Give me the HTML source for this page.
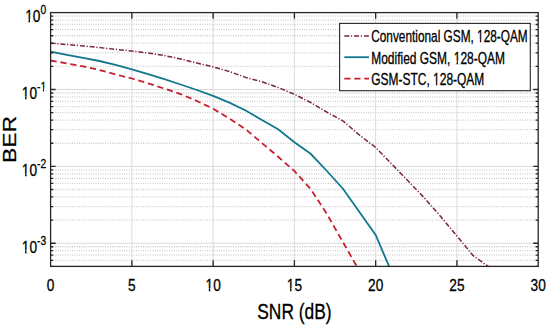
<!DOCTYPE html>
<html><head><meta charset="utf-8"><style>
html,body{margin:0;padding:0;background:#fff;}
svg{display:block;}
text{font-family:'Liberation Sans', sans-serif;fill:#000;stroke:#000;stroke-width:0.3px;}
.tl{font-size:17px;}
.sup{font-size:12.8px;}
.xl{font-size:22px;}
.yl{font-size:22.9px;}
.lt{font-size:16px;}
.mg{stroke:#cbcbcb;stroke-width:1.3;stroke-dasharray:0.95 1.42;fill:none;}
.Mg{stroke:#dadada;stroke-width:1;fill:none;}
.ax{fill:none;stroke:#262626;stroke-width:1.3;}
.tk{fill:none;stroke:#262626;stroke-width:1.3;}
.lg{fill:#fff;stroke:#262626;stroke-width:1.1;}
.c1{fill:none;stroke:#7a2242;stroke-width:1.5;stroke-dasharray:5 1.7 1.2 1.9;}
.c2{fill:none;stroke:#11778f;stroke-width:1.8;}
.c3{fill:none;stroke:#c81e2e;stroke-width:1.8;stroke-dasharray:6.2 3.8;}
</style></head><body>
<svg width="550" height="327" viewBox="0 0 550 327">
<defs><clipPath id="clip"><rect x="50.6" y="12.6" width="487.60" height="253.80"/></clipPath></defs>
<line x1="50.60" y1="266.40" x2="538.20" y2="266.40" class="mg"/>
<line x1="50.60" y1="260.31" x2="538.20" y2="260.31" class="mg"/>
<line x1="50.60" y1="255.16" x2="538.20" y2="255.16" class="mg"/>
<line x1="50.60" y1="250.71" x2="538.20" y2="250.71" class="mg"/>
<line x1="50.60" y1="246.77" x2="538.20" y2="246.77" class="mg"/>
<line x1="50.60" y1="220.11" x2="538.20" y2="220.11" class="mg"/>
<line x1="50.60" y1="206.57" x2="538.20" y2="206.57" class="mg"/>
<line x1="50.60" y1="196.97" x2="538.20" y2="196.97" class="mg"/>
<line x1="50.60" y1="189.51" x2="538.20" y2="189.51" class="mg"/>
<line x1="50.60" y1="183.43" x2="538.20" y2="183.43" class="mg"/>
<line x1="50.60" y1="178.28" x2="538.20" y2="178.28" class="mg"/>
<line x1="50.60" y1="173.82" x2="538.20" y2="173.82" class="mg"/>
<line x1="50.60" y1="169.89" x2="538.20" y2="169.89" class="mg"/>
<line x1="50.60" y1="143.23" x2="538.20" y2="143.23" class="mg"/>
<line x1="50.60" y1="129.69" x2="538.20" y2="129.69" class="mg"/>
<line x1="50.60" y1="120.08" x2="538.20" y2="120.08" class="mg"/>
<line x1="50.60" y1="112.63" x2="538.20" y2="112.63" class="mg"/>
<line x1="50.60" y1="106.54" x2="538.20" y2="106.54" class="mg"/>
<line x1="50.60" y1="101.39" x2="538.20" y2="101.39" class="mg"/>
<line x1="50.60" y1="96.94" x2="538.20" y2="96.94" class="mg"/>
<line x1="50.60" y1="93.00" x2="538.20" y2="93.00" class="mg"/>
<line x1="50.60" y1="66.34" x2="538.20" y2="66.34" class="mg"/>
<line x1="50.60" y1="52.80" x2="538.20" y2="52.80" class="mg"/>
<line x1="50.60" y1="43.20" x2="538.20" y2="43.20" class="mg"/>
<line x1="50.60" y1="35.74" x2="538.20" y2="35.74" class="mg"/>
<line x1="50.60" y1="29.66" x2="538.20" y2="29.66" class="mg"/>
<line x1="50.60" y1="24.51" x2="538.20" y2="24.51" class="mg"/>
<line x1="50.60" y1="20.05" x2="538.20" y2="20.05" class="mg"/>
<line x1="50.60" y1="16.12" x2="538.20" y2="16.12" class="mg"/>
<line x1="50.60" y1="89.49" x2="538.20" y2="89.49" class="Mg"/>
<line x1="50.60" y1="166.37" x2="538.20" y2="166.37" class="Mg"/>
<line x1="50.60" y1="243.26" x2="538.20" y2="243.26" class="Mg"/>
<line x1="131.87" y1="12.60" x2="131.87" y2="266.40" class="Mg"/>
<line x1="213.13" y1="12.60" x2="213.13" y2="266.40" class="Mg"/>
<line x1="294.40" y1="12.60" x2="294.40" y2="266.40" class="Mg"/>
<line x1="375.67" y1="12.60" x2="375.67" y2="266.40" class="Mg"/>
<line x1="456.93" y1="12.60" x2="456.93" y2="266.40" class="Mg"/>
<g clip-path="url(#clip)">
<polyline points="50.60,43.20 66.85,44.50 83.11,45.90 99.36,47.60 115.61,49.30 131.87,51.00 148.12,53.10 164.37,55.50 180.63,59.00 196.88,63.00 213.13,66.90 229.39,71.50 245.64,77.40 261.89,81.80 278.15,87.50 294.40,94.30 310.65,102.50 326.91,112.20 343.16,121.00 359.41,135.00 375.67,147.50 391.92,164.30 408.17,181.00 424.43,198.00 440.68,216.50 456.93,236.00 473.19,255.70 489.44,267.30" class="c1"/>
<polyline points="50.60,51.70 66.85,54.80 83.11,57.80 99.36,61.00 115.61,64.90 131.87,69.40 148.12,74.20 164.37,79.20 180.63,84.50 196.88,90.00 213.13,95.90 229.39,102.60 245.64,110.50 261.89,120.00 278.15,129.20 294.40,142.20 310.65,153.80 326.91,171.00 343.16,189.00 359.41,212.00 375.67,235.00 391.92,273.00" class="c2"/>
<polyline points="50.60,60.50 66.85,63.40 83.11,66.40 99.36,70.00 115.61,74.40 131.87,78.50 148.12,83.40 164.37,88.60 180.63,94.10 196.88,101.00 213.13,108.70 229.39,118.60 245.64,129.20 261.89,143.00 278.15,156.80 294.40,171.00 310.65,189.00 326.91,214.00 343.16,242.50 359.41,271.00" class="c3"/>
</g>
<rect x="50.60" y="12.60" width="487.60" height="253.80" class="ax"/>
<path d="M131.87,266.40v-6.2M131.87,12.60v6.2M213.13,266.40v-6.2M213.13,12.60v6.2M294.40,266.40v-6.2M294.40,12.60v6.2M375.67,266.40v-6.2M375.67,12.60v6.2M456.93,266.40v-6.2M456.93,12.60v6.2M50.60,89.49h5M538.20,89.49h-5M50.60,166.37h5M538.20,166.37h-5M50.60,243.26h5M538.20,243.26h-5M50.60,266.40h2.6M538.20,266.40h-2.6M50.60,260.31h2.6M538.20,260.31h-2.6M50.60,255.16h2.6M538.20,255.16h-2.6M50.60,250.71h2.6M538.20,250.71h-2.6M50.60,246.77h2.6M538.20,246.77h-2.6M50.60,220.11h2.6M538.20,220.11h-2.6M50.60,206.57h2.6M538.20,206.57h-2.6M50.60,196.97h2.6M538.20,196.97h-2.6M50.60,189.51h2.6M538.20,189.51h-2.6M50.60,183.43h2.6M538.20,183.43h-2.6M50.60,178.28h2.6M538.20,178.28h-2.6M50.60,173.82h2.6M538.20,173.82h-2.6M50.60,169.89h2.6M538.20,169.89h-2.6M50.60,143.23h2.6M538.20,143.23h-2.6M50.60,129.69h2.6M538.20,129.69h-2.6M50.60,120.08h2.6M538.20,120.08h-2.6M50.60,112.63h2.6M538.20,112.63h-2.6M50.60,106.54h2.6M538.20,106.54h-2.6M50.60,101.39h2.6M538.20,101.39h-2.6M50.60,96.94h2.6M538.20,96.94h-2.6M50.60,93.00h2.6M538.20,93.00h-2.6M50.60,66.34h2.6M538.20,66.34h-2.6M50.60,52.80h2.6M538.20,52.80h-2.6M50.60,43.20h2.6M538.20,43.20h-2.6M50.60,35.74h2.6M538.20,35.74h-2.6M50.60,29.66h2.6M538.20,29.66h-2.6M50.60,24.51h2.6M538.20,24.51h-2.6M50.60,20.05h2.6M538.20,20.05h-2.6M50.60,16.12h2.6M538.20,16.12h-2.6" class="tk"/>
<g transform="translate(50.60,290.9) scale(0.805,1)"><text x="0" y="0" text-anchor="middle" class="tl">0</text></g>
<g transform="translate(131.87,290.9) scale(0.805,1)"><text x="0" y="0" text-anchor="middle" class="tl">5</text></g>
<g transform="translate(213.13,290.9) scale(0.805,1)"><text x="0" y="0" text-anchor="middle" class="tl">10</text><rect x="-10.05" y="-2.69" width="4.65" height="3.79" fill="#fff"/><rect x="-3.56" y="-2.69" width="3.37" height="3.79" fill="#fff"/></g>
<g transform="translate(294.40,290.9) scale(0.805,1)"><text x="0" y="0" text-anchor="middle" class="tl">15</text><rect x="-10.05" y="-2.69" width="4.65" height="3.79" fill="#fff"/><rect x="-3.56" y="-2.69" width="3.37" height="3.79" fill="#fff"/></g>
<g transform="translate(375.67,290.9) scale(0.805,1)"><text x="0" y="0" text-anchor="middle" class="tl">20</text></g>
<g transform="translate(456.93,290.9) scale(0.805,1)"><text x="0" y="0" text-anchor="middle" class="tl">25</text></g>
<g transform="translate(538.20,290.9) scale(0.805,1)"><text x="0" y="0" text-anchor="middle" class="tl">30</text></g>
<g transform="translate(46.2,21.8) scale(0.805,1)"><text x="0" y="0" text-anchor="end" class="tl">10<tspan class="sup" dy="-8">0</tspan></text><rect x="-26.63" y="-2.69" width="4.65" height="3.79" fill="#fff"/><rect x="-20.13" y="-2.69" width="3.37" height="3.79" fill="#fff"/></g>
<g transform="translate(46.2,99.0) scale(0.805,1)"><text x="0" y="0" text-anchor="end" class="tl">10<tspan class="sup" dy="-8">-1</tspan></text><rect x="-30.88" y="-2.69" width="4.65" height="3.79" fill="#fff"/><rect x="-24.38" y="-2.69" width="3.37" height="3.79" fill="#fff"/><rect x="-7.73" y="-10.40" width="3.60" height="3.50" fill="#fff"/><rect x="-2.63" y="-10.40" width="2.49" height="3.50" fill="#fff"/></g>
<g transform="translate(46.2,176.1) scale(0.805,1)"><text x="0" y="0" text-anchor="end" class="tl">10<tspan class="sup" dy="-8">-2</tspan></text><rect x="-30.88" y="-2.69" width="4.65" height="3.79" fill="#fff"/><rect x="-24.38" y="-2.69" width="3.37" height="3.79" fill="#fff"/></g>
<g transform="translate(46.2,252.5) scale(0.805,1)"><text x="0" y="0" text-anchor="end" class="tl">10<tspan class="sup" dy="-8">-3</tspan></text><rect x="-30.88" y="-2.69" width="4.65" height="3.79" fill="#fff"/><rect x="-24.38" y="-2.69" width="3.37" height="3.79" fill="#fff"/></g>
<g transform="translate(294.40,318.9) scale(0.79,1)"><text x="0" y="0" text-anchor="middle" class="xl">SNR (dB)</text></g>
<g transform="translate(15.6,139.50) scale(0.78,1) rotate(-90)"><text x="0" y="0" text-anchor="middle" class="yl">BER</text></g>
<rect x="339.6" y="23.4" width="190.70" height="67.30" class="lg"/>
<line x1="344.3" y1="36.1" x2="369.0" y2="36.1" class="c1"/>
<g transform="translate(371.2,42.1) scale(0.74,1)"><text x="0" y="0" class="lt">Conventional GSM, 128-QAM</text><rect x="142.44" y="-2.62" width="4.41" height="3.72" fill="#fff"/><rect x="148.61" y="-2.62" width="3.17" height="3.72" fill="#fff"/></g>
<line x1="344.3" y1="57.2" x2="369.0" y2="57.2" class="c2"/>
<g transform="translate(371.2,63.5) scale(0.749,1)"><text x="0" y="0" class="lt">Modified GSM, 128-QAM</text><rect x="109.57" y="-2.62" width="4.41" height="3.72" fill="#fff"/><rect x="115.74" y="-2.62" width="3.17" height="3.72" fill="#fff"/></g>
<line x1="344.3" y1="78.6" x2="369.0" y2="78.6" class="c3"/>
<g transform="translate(371.2,85.2) scale(0.749,1)"><text x="0" y="0" class="lt">GSM-STC, 128-QAM</text><rect x="81.99" y="-2.62" width="4.41" height="3.72" fill="#fff"/><rect x="88.17" y="-2.62" width="3.17" height="3.72" fill="#fff"/></g>
</svg>
</body></html>
